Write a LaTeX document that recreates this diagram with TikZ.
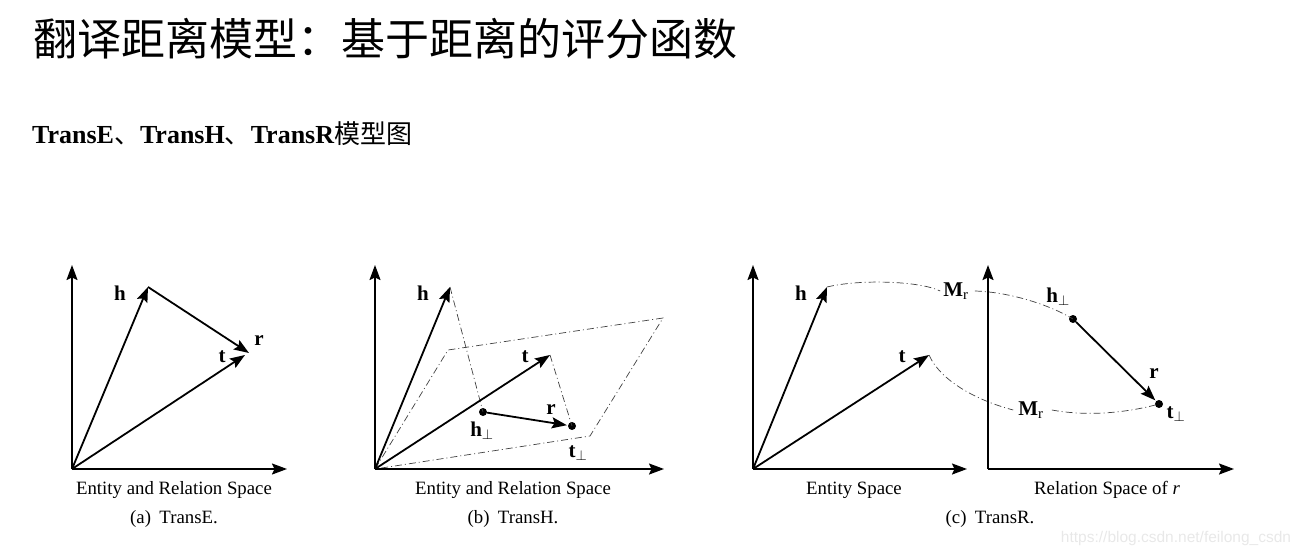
\documentclass[tikz,border=0pt]{standalone}
\usepackage{fontspec}
\setmainfont{Liberation Serif}
\newfontfamily\cjk{Noto Sans CJK SC}
\newfontfamily\wmfont{Liberation Sans}
\usetikzlibrary{arrows.meta}

\begin{document}
\begin{tikzpicture}[x=1pt, y=-1pt, >={Stealth[length=15pt,width=11pt,inset=2.5pt]},
  axis/.style={line width=1.8pt, ->},
  vec/.style={line width=1.8pt, ->},
  proj/.style={line width=0.7pt, draw=black!75, dash pattern=on 7pt off 3pt on 1pt off 3pt},
  lbl/.style={font=\fontsize{21}{21}\selectfont\bfseries, inner sep=0pt},
  captext/.style={font=\fontsize{18.8}{20}\selectfont, inner sep=0pt},
  pdot/.style={circle, fill, inner sep=0pt, minimum size=8pt}]
  \useasboundingbox (0,0) rectangle (1303,556);
  \node[anchor=west, inner sep=0pt, font=\cjk\fontsize{44}{44}\selectfont] (title) at (33,39) {翻译距离模型：基于距离的评分函数};
  \node[anchor=west, inner sep=0pt, font=\fontsize{26}{26}\selectfont] (subtitle) at (32,134) {\textbf{TransE}{\cjk 、}\textbf{TransH}{\cjk 、}\textbf{TransR}{\cjk 模型图}};
  \coordinate (oA) at (72,469);
  \coordinate (yA) at (72,265);
  \coordinate (xA) at (287,469);
  \coordinate (hA) at (148,287);
  \coordinate (tA) at (245,355);
  \coordinate (rA) at (249,353);
  \draw[axis] (oA) -- (yA);
  \draw[axis] (oA) -- (xA);
  \draw[vec] (oA) -- (hA);
  \draw[vec] (oA) -- (tA);
  \draw[vec] (hA) -- (rA);
  \node[lbl] (hAl) at (120,293) {h};
  \node[lbl] (tAl) at (222,357) {t};
  \node[lbl] (rAl) at (259,341) {r};
  \node[captext] (spA) at (174,490) {Entity and Relation Space};
  \node[captext] (capA) at (174,519) {(a)\hspace{0.45em}TransE.};
  \coordinate (oB) at (375,469);
  \coordinate (yB) at (375,265);
  \coordinate (xB) at (664,469);
  \coordinate (hB) at (450,287);
  \coordinate (tB) at (550,355);
  \coordinate (pB1) at (448,350);
  \coordinate (pB2) at (663,318);
  \coordinate (pB3) at (590,436);
  \draw[proj] (oB) -- (pB1) -- (pB2) -- (pB3) -- cycle;
  \node[pdot] (hpB) at (483,412) {};
  \node[pdot] (tpB) at (572,426) {};
  \draw[proj] (hB) -- (hpB.center);
  \draw[proj] (tB) -- (tpB.center);
  \draw[axis] (oB) -- (yB);
  \draw[axis] (oB) -- (xB);
  \draw[vec] (oB) -- (hB);
  \draw[vec] (oB) -- (tB);
  \draw[vec, shorten >=1pt] (hpB) -- (tpB);
  \node[lbl] (hBl) at (423,293) {h};
  \node[lbl] (tBl) at (525,357) {t};
  \node[lbl] (rBl) at (551,410) {r};
  \node[lbl] (hpBl) at (482,431) {h$_\perp$};
  \node[lbl] (tpBl) at (578,453) {t$_\perp$};
  \node[captext] (spB) at (513,490) {Entity and Relation Space};
  \node[captext] (capB) at (513,519) {(b)\hspace{0.45em}TransH.};
  \coordinate (oC) at (753,469);
  \coordinate (yC) at (753,265);
  \coordinate (xC) at (967,469);
  \coordinate (hC) at (827,287);
  \coordinate (tC) at (929,355);
  \coordinate (oD) at (988,469);
  \coordinate (yD) at (988,265);
  \coordinate (xD) at (1234,469);
  \node[pdot] (hpD) at (1073,319) {};
  \node[pdot] (tpD) at (1159,404) {};
  \node[lbl] (mrTop) at (956,291) {M\textsubscript{\mdseries r}};
  \node[lbl] (mrBot) at (1031,410) {M\textsubscript{\mdseries r}};
  \draw[proj] (hC) .. controls (860,279) and (920,281) .. ([xshift=-3pt]mrTop.west);
  \draw[proj] ([xshift=6pt]mrTop.east) .. controls (1010,292) and (1050,305) .. (hpD.center);
  \draw[proj] (tC) .. controls (940,380) and (975,400) .. ([xshift=-5pt]mrBot.west);
  \draw[proj] ([xshift=8pt]mrBot.east) .. controls (1090,417) and (1130,412) .. (tpD.center);
  \draw[axis] (oC) -- (yC);
  \draw[axis] (oC) -- (xC);
  \draw[axis] (oD) -- (yD);
  \draw[axis] (oD) -- (xD);
  \draw[vec] (oC) -- (hC);
  \draw[vec] (oC) -- (tC);
  \draw[vec, shorten >=1pt] (hpD) -- (tpD);
  \node[lbl] (hCl) at (801,293) {h};
  \node[lbl] (tCl) at (902,357) {t};
  \node[lbl] (rDl) at (1154,374) {r};
  \node[lbl] (hpDl) at (1058,297) {h$_\perp$};
  \node[lbl] (tpDl) at (1176,414) {t$_\perp$};
  \node[captext] (spC) at (854,490) {Entity Space};
  \node[captext] (spD) at (1107,490) {Relation Space of \textit{r}};
  \node[captext] (capC) at (990,519) {(c)\hspace{0.45em}TransR.};
  \node[inner sep=0pt, text=black!9, font=\wmfont\fontsize{15.5}{16}\selectfont] (mark) at (1176,538) {https://blog.csdn.net/feilong\_csdn};
\end{tikzpicture}
\end{document}
